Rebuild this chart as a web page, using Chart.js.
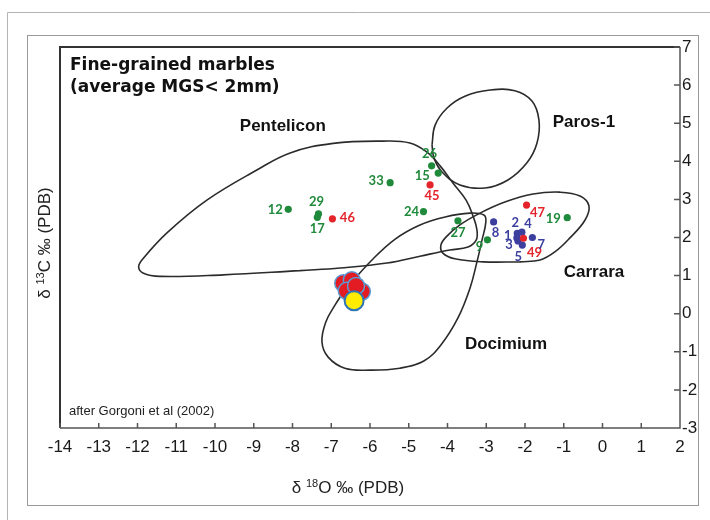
<!DOCTYPE html>
<html>
<head>
<meta charset="utf-8">
<script src="https://cdn.jsdelivr.net/npm/chart.js@4.4.1/dist/chart.umd.min.js"></script>
<style>
  html, body { margin: 0; padding: 0; background: #fff; }
</style>
</head>
<body>
<canvas id="c" width="710" height="520"></canvas>
<script>
// d18O (x) and d13C (y), per mil PDB
const xTicks = [-14, -13, -12, -11, -10, -9, -8, -7, -6, -5, -4, -3, -2, -1, 0, 1, 2];
const yTicks = [-3, -2, -1, 0, 1, 2, 3, 4, 5, 6, 7];

const greenLabels = ['12', '29', '17', '33', '26', '15', '24', '27', '9', '19'];
const greenX = [-8.11, -7.33, -7.36, -5.48, -4.41, -4.24, -4.62, -3.73, -2.97, -0.91];
const greenY = [2.74, 2.62, 2.53, 3.44, 3.88, 3.69, 2.68, 2.44, 1.94, 2.52];

const redLabels = ['46', '45', '47', '49'];
const redX = [-6.97, -4.45, -1.96, -2.04];
const redY = [2.49, 3.38, 2.85, 1.98];

const blueLabels = ['8', '2', '4', '1', '3', '5', '7'];
const blueX = [-2.81, -2.20, -2.08, -2.21, -2.18, -2.07, -1.81];
const blueY = [2.41, 2.11, 2.14, 1.99, 1.91, 1.80, 2.00];

// large symbols (studied samples)
const sampleX = [-6.69, -6.47, -6.60, -6.21, -6.36];
const sampleY = [0.80, 0.88, 0.60, 0.58, 0.73];
const yellowX = [-6.41];
const yellowY = [0.34];

// fields (closed outlines)
const pentelX = [-7.81, -9.79, -11.42, -11.86, -11.97, -11.86, -11.24, -10.21, -8.92, -8.06, -6.95, -5.66, -4.97, -4.53, -4.19, -3.86, -3.52, -3.34, -3.24, -3.26, -3.47, -3.94, -4.71, -5.56, -6.77, -7.81];
const pentelY = [1.13, 1.02, 0.98, 1.07, 1.23, 1.44, 2.12, 2.98, 3.77, 4.22, 4.47, 4.53, 4.48, 4.24, 3.88, 3.43, 2.98, 2.56, 2.20, 1.93, 1.75, 1.67, 1.51, 1.33, 1.20, 1.13];

const docimX = [-6.65, -5.95, -5.35, -4.71, -4.06, -3.42, -3.06, -3.01, -3.11, -3.24, -3.42, -3.73, -4.17, -4.61, -5.23, -6.00, -6.65, -7.08, -7.24, -7.14, -6.90, -6.65];
const docimY = [0.62, 1.41, 1.96, 2.33, 2.54, 2.64, 2.59, 2.41, 1.93, 1.36, 0.67, -0.11, -0.82, -1.24, -1.43, -1.48, -1.43, -1.14, -0.74, -0.22, 0.23, 0.62];

const carraX = [-2.13, -3.08, -3.81, -4.12, -4.17, -4.04, -3.68, -3.16, -2.52, -1.79, -1.10, -0.58, -0.35, -0.45, -0.84, -1.23, -1.61, -2.13];
const carraY = [1.36, 1.36, 1.44, 1.59, 1.80, 2.01, 2.33, 2.64, 2.93, 3.14, 3.19, 3.09, 2.83, 2.46, 1.99, 1.62, 1.41, 1.36];

const parosX = [-4.40, -4.32, -4.01, -3.55, -2.90, -2.26, -1.82, -1.64, -1.69, -1.95, -2.44, -3.03, -3.68, -4.14, -4.35, -4.40];
const parosY = [4.43, 4.95, 5.40, 5.71, 5.87, 5.85, 5.58, 5.08, 4.48, 3.96, 3.51, 3.30, 3.38, 3.72, 4.09, 4.43];

const fieldNames = ['Pentelicon', 'Paros-1', 'Carrara', 'Docimium'];
const fieldNameX = [-8.25, -0.48, -0.22, -2.49];
const fieldNameY = [4.93, 5.03, 1.09, -0.80];

// label placement around each point (pixels, style only)
const labelOffset = {
  '12': [-13, 1], '29': [-2, -12], '17': [0, 12], '33': [-14, -2], '26': [-2, -12],
  '15': [-16, 3], '24': [-12, 0], '27': [0, 12], '9': [-8, 7], '19': [-14, 1],
  '46': [15, -1], '45': [2, 11], '47': [11, 8], '49': [11, 15],
  '8': [2, 11], '2': [-2, -10], '4': [6, -8], '1': [-9, -2], '3': [-9, 4], '5': [-4, 12], '7': [9, 7]
};

const GREEN = '#1f8a3b';
const RED = '#e3242b';
const BLUE = '#3c3f9e';

function pts(xs, ys) {
  return xs.map((x, i) => ({ x, y: ys[i] }));
}

function outline(xs, ys) {
  return {
    data: pts(xs, ys), showLine: true, pointRadius: 0, borderColor: '#2b2b2b',
    borderWidth: 1.6, tension: 0.4, fill: false, order: 10
  };
}

function markers(xs, ys, color, labels) {
  return {
    data: pts(xs, ys), pointRadius: 3.6, pointBackgroundColor: color, pointBorderWidth: 0,
    showLine: false, order: 2, ptLabels: labels, ptColor: color
  };
}

const datasets = [
  outline(pentelX, pentelY),
  outline(docimX, docimY),
  outline(carraX, carraY),
  outline(parosX, parosY),
  markers(greenX, greenY, GREEN, greenLabels),
  markers(redX, redY, RED, redLabels),
  markers(blueX, blueY, BLUE, blueLabels),
  {
    data: pts(sampleX, sampleY), pointRadius: 8.5, pointBackgroundColor: '#e31b23',
    pointBorderColor: '#5b9bd5', pointBorderWidth: 1.5, showLine: false, order: 1
  },
  {
    data: pts(yellowX, yellowY), pointRadius: 9.5, pointBackgroundColor: '#ffec00',
    pointBorderColor: '#2e75b6', pointBorderWidth: 2, showLine: false, order: 0
  }
];

const decor = {
  id: 'decor',
  beforeDraw(chart) {
    const c = chart.ctx;
    c.save();
    c.fillStyle = '#fff';
    c.fillRect(0, 0, chart.width, chart.height);
    c.strokeStyle = '#b4b4b4';
    c.lineWidth = 1;
    c.beginPath();
    c.moveTo(7.5, 520); c.lineTo(7.5, 12.5); c.lineTo(710, 12.5);
    c.stroke();
    c.strokeStyle = '#9a9a9a';
    c.strokeRect(27.5, 35.5, 671, 470);
    c.restore();
  },
  afterDatasetsDraw(chart) {
    const c = chart.ctx;
    c.save();
    c.font = 'bold 13px Lato, "Open Sans", sans-serif';
    c.textAlign = 'center';
    c.textBaseline = 'middle';
    chart.data.datasets.forEach((ds, i) => {
      if (!ds.ptLabels) return;
      const meta = chart.getDatasetMeta(i);
      c.fillStyle = ds.ptColor;
      meta.data.forEach((el, j) => {
        const lab = ds.ptLabels[j];
        const off = labelOffset[lab] || [0, 0];
        c.fillText(lab, el.x + off[0], el.y + off[1]);
      });
    });
    c.restore();
  },
  afterDraw(chart) {
    const c = chart.ctx;
    const a = chart.chartArea;
    const xs = chart.scales.x, ys = chart.scales.y;
    c.save();
    // frame of the plot (top and left)
    c.strokeStyle = '#333';
    c.lineWidth = 2;
    c.beginPath();
    c.moveTo(a.left, a.bottom); c.lineTo(a.left, a.top); c.lineTo(a.right, a.top);
    c.stroke();
    // axes with inward ticks
    c.strokeStyle = '#555';
    c.lineWidth = 1.5;
    c.beginPath();
    c.moveTo(a.left, a.bottom); c.lineTo(a.right, a.bottom); c.lineTo(a.right, a.top);
    xTicks.forEach(v => {
      const px = xs.getPixelForValue(v);
      c.moveTo(px, a.bottom); c.lineTo(px, a.bottom - 5);
    });
    yTicks.forEach(v => {
      const py = ys.getPixelForValue(v);
      c.moveTo(a.right, py); c.lineTo(a.right - 6, py);
    });
    c.stroke();

    // title
    c.fillStyle = '#111';
    c.textAlign = 'left';
    c.textBaseline = 'alphabetic';
    c.font = 'bold 17px "DejaVu Sans", Verdana, sans-serif';
    c.fillText('Fine-grained marbles', 70, 70);
    c.fillText('(average MGS< 2mm)', 70, 92);

    // field names
    c.font = 'bold 17px "Liberation Sans", Arial, sans-serif';
    c.textAlign = 'center';
    c.textBaseline = 'middle';
    fieldNames.forEach((n, i) => {
      c.fillText(n, xs.getPixelForValue(fieldNameX[i]), ys.getPixelForValue(fieldNameY[i]));
    });

    // source note
    c.textAlign = 'left';
    c.textBaseline = 'alphabetic';
    c.font = '13px "Liberation Sans", Arial, sans-serif';
    c.fillStyle = '#222';
    c.fillText('after Gorgoni et al (2002)', 69, 415);

    // axis titles with superscripts
    function isoLabel(x, y, sup, el) {
      c.font = '17px "Liberation Sans", Arial, sans-serif';
      const w1 = c.measureText('\u03b4 ').width;
      c.font = '11px "Liberation Sans", Arial, sans-serif';
      const w2 = c.measureText(sup).width;
      c.font = '17px "Liberation Sans", Arial, sans-serif';
      const rest = el + ' \u2030 (PDB)';
      const w3 = c.measureText(rest).width;
      let sx = x - (w1 + w2 + w3) / 2;
      c.textAlign = 'left';
      c.fillText('\u03b4 ', sx, y);
      c.font = '11px "Liberation Sans", Arial, sans-serif';
      c.fillText(sup, sx + w1, y - 6);
      c.font = '17px "Liberation Sans", Arial, sans-serif';
      c.fillText(rest, sx + w1 + w2, y);
    }
    c.fillStyle = '#222';
    isoLabel(348, 493, '18', 'O');
    c.save();
    c.translate(50, 243);
    c.rotate(-Math.PI / 2);
    isoLabel(0, 0, '13', 'C');
    c.restore();
    c.restore();
  }
};

new Chart(document.getElementById('c'), {
  type: 'scatter',
  data: { datasets },
  options: {
    responsive: false,
    animation: false,
    layout: { padding: { left: 60, top: 47, right: 0, bottom: 0 } },
    plugins: { legend: { display: false }, tooltip: { enabled: false } },
    scales: {
      x: {
        type: 'linear', position: 'bottom', min: -14, max: 2,
        afterBuildTicks: s => { s.ticks = xTicks.map(v => ({ value: v })); },
        afterFit: s => { s.height = 92; },
        grid: { display: false, drawTicks: false },
        border: { display: false },
        ticks: { color: '#1a1a1a', padding: 9, maxRotation: 0, autoSkip: false,
          font: { family: '"Liberation Sans", Arial, sans-serif', size: 17 } }
      },
      y: {
        type: 'linear', position: 'right', min: -3, max: 7,
        afterBuildTicks: s => { s.ticks = yTicks.map(v => ({ value: v })); },
        afterFit: s => { s.width = 30; },
        grid: { display: false, drawTicks: false },
        border: { display: false },
        ticks: { color: '#1a1a1a', padding: 2, autoSkip: false,
          font: { family: '"Liberation Sans", Arial, sans-serif', size: 17 } }
      }
    }
  },
  plugins: [decor]
});
</script>
</body>
</html>
